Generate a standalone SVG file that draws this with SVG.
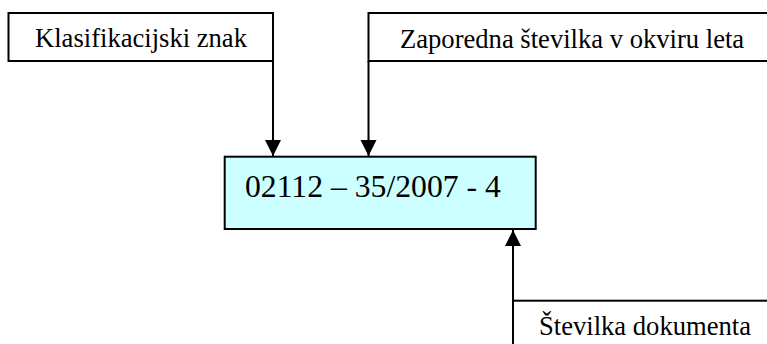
<svg xmlns="http://www.w3.org/2000/svg" width="767" height="344" viewBox="0 0 767 344">
<style>
.box{fill:#ffffff;stroke:#000;stroke-width:2}
.main{fill:#ccffff;stroke:#000;stroke-width:2}
.lbl{font-family:"Liberation Serif","Times New Roman",serif;font-size:26.6px;fill:#000}
.big{font-family:"Liberation Serif","Times New Roman",serif;font-size:31.7px;fill:#000}
.conn{stroke:#000;stroke-width:2;fill:none}
</style>
<defs>
<marker id="ah" markerUnits="userSpaceOnUse" markerWidth="18" markerHeight="18" viewBox="0 0 18 18" refX="16" refY="9" orient="auto">
<path d="M0,1 L16,9 L0,17 Z" fill="#000"/>
</marker>
</defs>
<g id="n1"><rect class="box" x="8.5" y="13" width="264.5" height="48"/><text class="lbl" x="141" y="46.7" text-anchor="middle">Klasifikacijski znak</text></g>
<g id="n2"><rect class="box" x="368.5" y="13" width="420" height="48"/><text class="lbl" x="400" y="47.5">Zaporedna številka v okviru leta</text></g>
<g id="n3"><rect class="main" x="224.7" y="156.7" width="311" height="72.3"/><text class="big" x="245" y="196.7">02112 – 35/2007 - 4</text></g>
<g id="n4"><rect class="box" x="513" y="300.7" width="300" height="100"/><text class="lbl" x="539" y="335">Številka dokumenta</text></g>
<g id="connectors">
<line class="conn" x1="273" y1="61" x2="273" y2="156" marker-end="url(#ah)"/>
<line class="conn" x1="368.5" y1="61" x2="368.5" y2="156" marker-end="url(#ah)"/>
<line class="conn" x1="513" y1="300.7" x2="513" y2="230" marker-end="url(#ah)"/>
</g>
</svg>
